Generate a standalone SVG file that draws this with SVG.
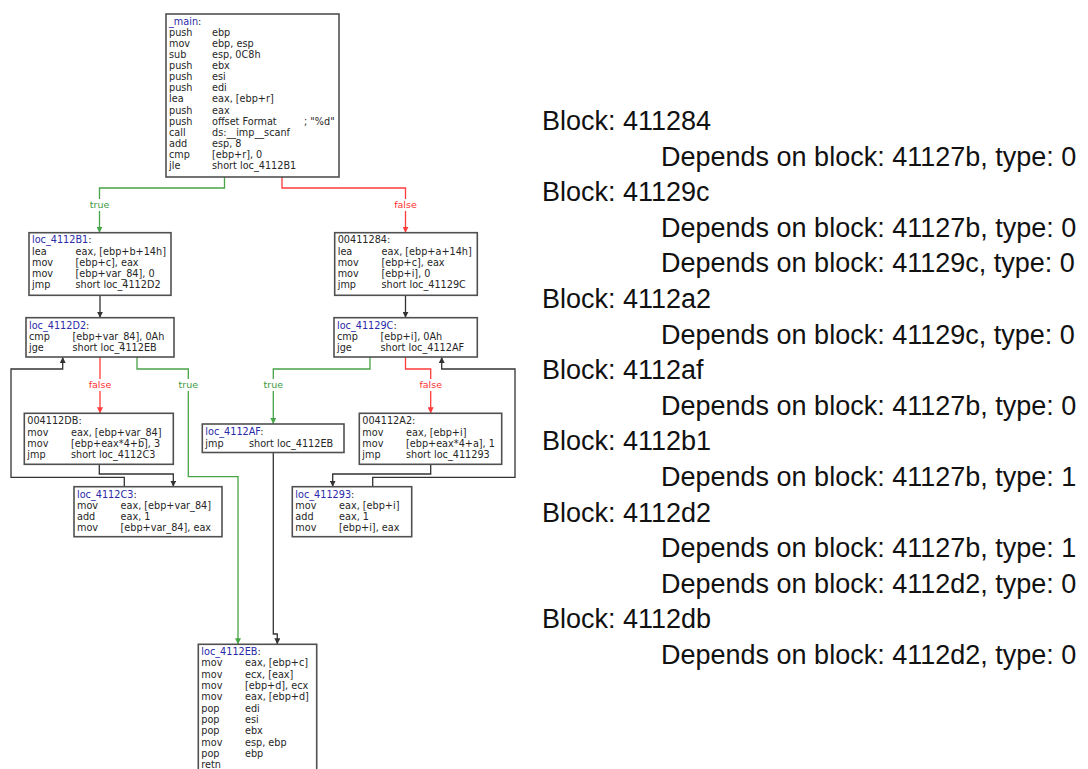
<svg xmlns="http://www.w3.org/2000/svg" width="1088" height="769" viewBox="0 0 1088 769">
  <style>
    .box { fill: #ffffff; stroke: #505050; stroke-width: 1.6; }
    .code { font-family: "DejaVu Sans", "Liberation Sans", sans-serif; font-size: 9.7px; fill: #262626; }
    .name { fill: #2a2aa8; }
    .edge { fill: none; stroke-width: 1.3; }
    .e-true { stroke: #47a447; }
    .e-false { stroke: #ff3b3b; }
    .e-plain { stroke: #333333; }
    .cond { font-family: "DejaVu Sans", sans-serif; font-size: 9.5px; text-anchor: middle; }
    .cond-true { fill: #3d9a3d; }
    .cond-false { fill: #ff3030; }
    .gap { fill: #ffffff; }
    .dep { font-family: "Liberation Sans", Arial, sans-serif; font-size: 27px; fill: #111111; }
  </style>
  <defs>
    <marker id="ah-true" viewBox="0 0 6 6" refX="6" refY="3" markerWidth="6" markerHeight="6" markerUnits="userSpaceOnUse" orient="auto">
      <path d="M0,0 L6,3 L0,6 z" fill="#47a447"/>
    </marker>
    <marker id="ah-false" viewBox="0 0 6 6" refX="6" refY="3" markerWidth="6" markerHeight="6" markerUnits="userSpaceOnUse" orient="auto">
      <path d="M0,0 L6,3 L0,6 z" fill="#ff3b3b"/>
    </marker>
    <marker id="ah-plain" viewBox="0 0 6 6" refX="6" refY="3" markerWidth="6" markerHeight="6" markerUnits="userSpaceOnUse" orient="auto">
      <path d="M0,0 L6,3 L0,6 z" fill="#333333"/>
    </marker>
  </defs>

  <rect width="1088" height="769" fill="#ffffff"/>

  <!-- control-flow edges -->
  <g id="connectors">
    <polyline class="edge e-true" points="224.5,177 224.5,188 99.5,188 99.5,232.7" marker-end="url(#ah-true)"/>
    <polyline class="edge e-false" points="282,177 282,188 405.5,188 405.5,232.7" marker-end="url(#ah-false)"/>
    <polyline class="edge e-plain" points="100,295.3 100,317.7" marker-end="url(#ah-plain)"/>
    <polyline class="edge e-plain" points="405.5,295.3 405.5,317.7" marker-end="url(#ah-plain)"/>
    <polyline class="edge e-false" points="100,357 100,413.3" marker-end="url(#ah-false)"/>
    <polyline class="edge e-true" points="137,357 137,369 188.3,369 188.3,476.7 238,476.7 238,644.3" marker-end="url(#ah-true)"/>
    <polyline class="edge e-true" points="370,357 370,369 273.3,369 273.3,424" marker-end="url(#ah-true)"/>
    <polyline class="edge e-false" points="405.5,357 405.5,369 430.7,369 430.7,413.3" marker-end="url(#ah-false)"/>
    <polyline class="edge e-plain" points="99.3,464.3 99.3,474 173.3,474 173.3,486.7" marker-end="url(#ah-plain)"/>
    <polyline class="edge e-plain" points="124.3,486.7 124.3,477.3 11,477.3 11,369 62.7,369 62.7,357" marker-end="url(#ah-plain)"/>
    <polyline class="edge e-plain" points="273.3,452.5 273.3,634 277.3,634 277.3,644.3" marker-end="url(#ah-plain)"/>
    <polyline class="edge e-plain" points="430.7,464.3 430.7,474 332.7,474 332.7,486.7" marker-end="url(#ah-plain)"/>
    <polyline class="edge e-plain" points="372.7,486.7 372.7,477.3 515,477.3 515,369 441.7,369 441.7,357" marker-end="url(#ah-plain)"/>

    <rect class="gap" x="86" y="199" width="27" height="12"/>
    <text class="cond cond-true" x="99.5" y="207.5">true</text>
    <rect class="gap" x="389" y="199" width="33" height="12"/>
    <text class="cond cond-false" x="405.5" y="207.5">false</text>
    <rect class="gap" x="84" y="379" width="33" height="12"/>
    <text class="cond cond-false" x="100" y="387.8">false</text>
    <rect class="gap" x="175" y="379" width="27" height="12"/>
    <text class="cond cond-true" x="188.3" y="387.8">true</text>
    <rect class="gap" x="260" y="379" width="27" height="12"/>
    <text class="cond cond-true" x="273.3" y="387.8">true</text>
    <rect class="gap" x="414" y="379" width="33" height="12"/>
    <text class="cond cond-false" x="430.7" y="387.8">false</text>
  </g>

  <g id="block-main">
    <rect class="box" x="166" y="14" width="173" height="163"/>
    <text class="code" x="169" y="24.7"><tspan class="name">_main</tspan>:</text>
    <text class="code" y="35.8"><tspan x="169">push</tspan><tspan x="212">ebp</tspan></text>
    <text class="code" y="46.9"><tspan x="169">mov</tspan><tspan x="212">ebp, esp</tspan></text>
    <text class="code" y="58.0"><tspan x="169">sub</tspan><tspan x="212">esp, 0C8h</tspan></text>
    <text class="code" y="69.1"><tspan x="169">push</tspan><tspan x="212">ebx</tspan></text>
    <text class="code" y="80.2"><tspan x="169">push</tspan><tspan x="212">esi</tspan></text>
    <text class="code" y="91.3"><tspan x="169">push</tspan><tspan x="212">edi</tspan></text>
    <text class="code" y="102.4"><tspan x="169">lea</tspan><tspan x="212">eax, [ebp+r]</tspan></text>
    <text class="code" y="113.5"><tspan x="169">push</tspan><tspan x="212">eax</tspan></text>
    <text class="code" y="124.6"><tspan x="169">push</tspan><tspan x="212">offset Format</tspan><tspan x="304">; "%d"</tspan></text>
    <text class="code" y="135.7"><tspan x="169">call</tspan><tspan x="212">ds:__imp__scanf</tspan></text>
    <text class="code" y="146.8"><tspan x="169">add</tspan><tspan x="212">esp, 8</tspan></text>
    <text class="code" y="157.9"><tspan x="169">cmp</tspan><tspan x="212">[ebp+r], 0</tspan></text>
    <text class="code" y="169.0"><tspan x="169">jle</tspan><tspan x="212">short loc_4112B1</tspan></text>
  </g>

  <g id="block-4112B1">
    <rect class="box" x="29" y="232.7" width="142" height="62.6"/>
    <text class="code" x="32" y="243.4"><tspan class="name">loc_4112B1</tspan>:</text>
    <text class="code" y="254.6"><tspan x="32">lea</tspan><tspan x="75.5">eax, [ebp+b+14h]</tspan></text>
    <text class="code" y="265.8"><tspan x="32">mov</tspan><tspan x="75.5">[ebp+c], eax</tspan></text>
    <text class="code" y="277.0"><tspan x="32">mov</tspan><tspan x="75.5">[ebp+var_84], 0</tspan></text>
    <text class="code" y="288.2"><tspan x="32">jmp</tspan><tspan x="75.5">short loc_4112D2</tspan></text>
  </g>

  <g id="block-411284">
    <rect class="box" x="334.7" y="232.7" width="142.6" height="62.6"/>
    <text class="code" x="337.7" y="243.4">00411284:</text>
    <text class="code" y="254.6"><tspan x="337.7">lea</tspan><tspan x="381.5">eax, [ebp+a+14h]</tspan></text>
    <text class="code" y="265.8"><tspan x="337.7">mov</tspan><tspan x="381.5">[ebp+c], eax</tspan></text>
    <text class="code" y="277.0"><tspan x="337.7">mov</tspan><tspan x="381.5">[ebp+i], 0</tspan></text>
    <text class="code" y="288.2"><tspan x="337.7">jmp</tspan><tspan x="381.5">short loc_41129C</tspan></text>
  </g>

  <g id="block-4112D2">
    <rect class="box" x="26" y="317.7" width="148" height="39.3"/>
    <text class="code" x="29" y="329.1"><tspan class="name">loc_4112D2</tspan>:</text>
    <text class="code" y="340.2"><tspan x="29">cmp</tspan><tspan x="72.5">[ebp+var_84], 0Ah</tspan></text>
    <text class="code" y="351.3"><tspan x="29">jge</tspan><tspan x="72.5">short loc_4112EB</tspan></text>
  </g>

  <g id="block-41129C">
    <rect class="box" x="334" y="317.7" width="143.3" height="39.3"/>
    <text class="code" x="337" y="329.1"><tspan class="name">loc_41129C</tspan>:</text>
    <text class="code" y="340.2"><tspan x="337">cmp</tspan><tspan x="380.5">[ebp+i], 0Ah</tspan></text>
    <text class="code" y="351.3"><tspan x="337">jge</tspan><tspan x="380.5">short loc_4112AF</tspan></text>
  </g>

  <g id="block-4112DB">
    <rect class="box" x="24.3" y="413.3" width="149" height="51"/>
    <text class="code" x="27.3" y="424.4">004112DB:</text>
    <text class="code" y="435.6"><tspan x="27.3">mov</tspan><tspan x="71">eax, [ebp+var_84]</tspan></text>
    <text class="code" y="446.8"><tspan x="27.3">mov</tspan><tspan x="71">[ebp+eax*4+b], 3</tspan></text>
    <text class="code" y="458.0"><tspan x="27.3">jmp</tspan><tspan x="71">short loc_4112C3</tspan></text>
  </g>

  <g id="block-4112AF">
    <rect class="box" x="202.3" y="424" width="141.7" height="28.5"/>
    <text class="code" x="205.3" y="435.1"><tspan class="name">loc_4112AF</tspan>:</text>
    <text class="code" y="446.5"><tspan x="205.3">jmp</tspan><tspan x="249">short loc_4112EB</tspan></text>
  </g>

  <g id="block-4112A2">
    <rect class="box" x="359.3" y="413.3" width="142.4" height="51"/>
    <text class="code" x="362.3" y="424.4">004112A2:</text>
    <text class="code" y="435.6"><tspan x="362.3">mov</tspan><tspan x="406">eax, [ebp+i]</tspan></text>
    <text class="code" y="446.8"><tspan x="362.3">mov</tspan><tspan x="406">[ebp+eax*4+a], 1</tspan></text>
    <text class="code" y="458.0"><tspan x="362.3">jmp</tspan><tspan x="406">short loc_411293</tspan></text>
  </g>

  <g id="block-4112C3">
    <rect class="box" x="74" y="486.7" width="148" height="50"/>
    <text class="code" x="77" y="497.7"><tspan class="name">loc_4112C3</tspan>:</text>
    <text class="code" y="508.9"><tspan x="77">mov</tspan><tspan x="120.5">eax, [ebp+var_84]</tspan></text>
    <text class="code" y="520.1"><tspan x="77">add</tspan><tspan x="120.5">eax, 1</tspan></text>
    <text class="code" y="531.3"><tspan x="77">mov</tspan><tspan x="120.5">[ebp+var_84], eax</tspan></text>
  </g>

  <g id="block-411293">
    <rect class="box" x="292.3" y="486.7" width="119.4" height="50"/>
    <text class="code" x="295.3" y="497.7"><tspan class="name">loc_411293</tspan>:</text>
    <text class="code" y="508.9"><tspan x="295.3">mov</tspan><tspan x="339">eax, [ebp+i]</tspan></text>
    <text class="code" y="520.1"><tspan x="295.3">add</tspan><tspan x="339">eax, 1</tspan></text>
    <text class="code" y="531.3"><tspan x="295.3">mov</tspan><tspan x="339">[ebp+i], eax</tspan></text>
  </g>

  <g id="block-4112EB">
    <rect class="box" x="198.3" y="644.3" width="118.4" height="140"/>
    <text class="code" x="201.3" y="655.1"><tspan class="name">loc_4112EB</tspan>:</text>
    <text class="code" y="666.4"><tspan x="201.3">mov</tspan><tspan x="245">eax, [ebp+c]</tspan></text>
    <text class="code" y="677.7"><tspan x="201.3">mov</tspan><tspan x="245">ecx, [eax]</tspan></text>
    <text class="code" y="689.0"><tspan x="201.3">mov</tspan><tspan x="245">[ebp+d], ecx</tspan></text>
    <text class="code" y="700.3"><tspan x="201.3">mov</tspan><tspan x="245">eax, [ebp+d]</tspan></text>
    <text class="code" y="711.6"><tspan x="201.3">pop</tspan><tspan x="245">edi</tspan></text>
    <text class="code" y="722.9"><tspan x="201.3">pop</tspan><tspan x="245">esi</tspan></text>
    <text class="code" y="734.2"><tspan x="201.3">pop</tspan><tspan x="245">ebx</tspan></text>
    <text class="code" y="745.5"><tspan x="201.3">mov</tspan><tspan x="245">esp, ebp</tspan></text>
    <text class="code" y="756.8"><tspan x="201.3">pop</tspan><tspan x="245">ebp</tspan></text>
    <text class="code" x="201.3" y="768.1">retn</text>
  </g>

  <!-- block dependency listing -->
  <g id="dependency-list">
    <text class="dep" x="542" y="130.0">Block: 411284</text>
    <text class="dep" x="661" y="165.6">Depends on block: 41127b, type: 0</text>
    <text class="dep" x="542" y="201.2">Block: 41129c</text>
    <text class="dep" x="661" y="236.8">Depends on block: 41127b, type: 0</text>
    <text class="dep" x="661" y="272.4">Depends on block: 41129c, type: 0</text>
    <text class="dep" x="542" y="308.0">Block: 4112a2</text>
    <text class="dep" x="661" y="343.6">Depends on block: 41129c, type: 0</text>
    <text class="dep" x="542" y="379.2">Block: 4112af</text>
    <text class="dep" x="661" y="414.8">Depends on block: 41127b, type: 0</text>
    <text class="dep" x="542" y="450.4">Block: 4112b1</text>
    <text class="dep" x="661" y="486.0">Depends on block: 41127b, type: 1</text>
    <text class="dep" x="542" y="521.6">Block: 4112d2</text>
    <text class="dep" x="661" y="557.2">Depends on block: 41127b, type: 1</text>
    <text class="dep" x="661" y="592.8">Depends on block: 4112d2, type: 0</text>
    <text class="dep" x="542" y="628.4">Block: 4112db</text>
    <text class="dep" x="661" y="664.0">Depends on block: 4112d2, type: 0</text>
  </g>
</svg>
